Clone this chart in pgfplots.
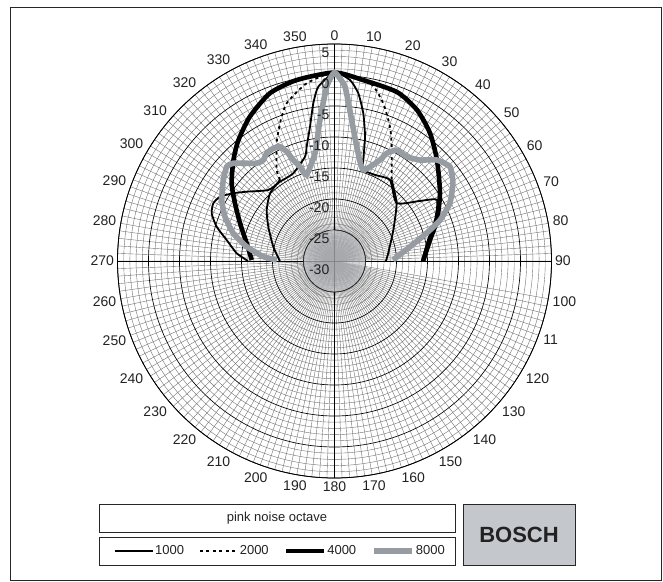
\documentclass[border=0pt]{standalone}
\usepackage{pgfplots}
\pgfplotsset{compat=1.18}
\usepgfplotslibrary{polar}
\usetikzlibrary{calc}
\usepackage{fontspec}
\setmainfont{Liberation Sans}
\definecolor{gline}{RGB}{150,156,162}
\definecolor{discgray}{RGB}{190,192,197}
\definecolor{boschgray}{RGB}{196,199,204}
\definecolor{txt}{RGB}{34,34,34}
\begin{document}
\begin{tikzpicture}
\begin{polaraxis}[
  scale only axis, width=434pt, height=434pt,
  xmin=0, xmax=360, ymin=0, ymax=35,
  x filter/.expression={90-x},
  y filter/.expression={y+30},
  xtick={0,10,...,350},
  xticklabels={90,80,70,60,50,40,30,20,10,0,350,340,330,320,310,300,290,280,270,260,250,240,230,220,210,200,190,180,170,160,150,140,130,120,11,100},
  xticklabel style={font=\fontsize{14}{16}\selectfont, text=txt},
  ytick={0,5,...,35},
  yticklabels={},
  minor x tick num=4,
  minor y tick num=4,
  major tick length=0pt, minor tick length=0pt,
  grid=both,
  major x grid style={black!55, line width=0.4pt},
  minor x grid style={black!55, line width=0.4pt},
  major y grid style={black, line width=0.65pt},
  minor y grid style={black!55, line width=0.4pt},
  extra x ticks={0,90,180,270},
  extra x tick labels={},
  extra x tick style={grid=major, major x grid style={black, line width=0.65pt}},
  axis line style={black, line width=0.8pt},
  legend style={at={(axis cs:259.36,47.6)}, anchor=center, legend columns=4, draw=none, fill=none,
    font=\fontsize{13}{15}\selectfont, text=txt,
    /tikz/every even column/.append style={column sep=14pt},
    nodes={inner sep=1pt}},
  legend image code/.code={\draw[#1] (0pt,0pt) -- (38pt,0pt);},
]
% central disc
\addplot[draw=black!85, line width=0.6pt, fill=discgray, fill opacity=0.7, forget plot] coordinates {
(0,-25) (10,-25) (20,-25) (30,-25) (40,-25) (50,-25) (60,-25) (70,-25) (80,-25) (90,-25)
(100,-25) (110,-25) (120,-25) (130,-25) (140,-25) (150,-25) (160,-25) (170,-25) (180,-25)
(190,-25) (200,-25) (210,-25) (220,-25) (230,-25) (240,-25) (250,-25) (260,-25) (270,-25)
(280,-25) (290,-25) (300,-25) (310,-25) (320,-25) (330,-25) (340,-25) (350,-25)};
% 1000 Hz
\addplot[black, line width=1.8pt, smooth, tension=0.35] coordinates {
(-90,-16.05) (-85.5,-14.18) (-79,-12.29) (-73.8,-10.21) (-68.8,-8.75) (-64.5,-8.35)
(-60.7,-8.82) (-56.2,-10.36) (-51.7,-11.96) (-43,-14.34) (-34.5,-14.48) (-25.2,-14.37)
(-15.8,-12.52) (-13.7,-11.03) (-10.34,-7.98) (-7.66,-4.34) (-5.31,-1.77) (0,0.4)
(4.9,-0.7) (8.08,-2.68) (11.03,-5.73) (13.8,-9.35) (15.9,-13.06) (17.56,-14.6)
(25.2,-14.66) (34.4,-14.16) (47,-16.3) (54.9,-13.15) (59.2,-10.76) (67.8,-12.5)
(77.3,-14.55) (90,-15.9)};
\addlegendentry{1000}
% 2000 Hz (upper, dashed)
\addplot[black, line width=1.8pt, dash pattern=on 3pt off 3.5pt, smooth, tension=0.35] coordinates {
(-33.9,-14.25) (-32.4,-12.61) (-26.2,-8.85) (-21.6,-6.11) (-16.9,-3.42) (-8.9,-0.99) (0,0.4)
(11.3,-0.73) (17.1,-3.34) (22.5,-6.6) (26.65,-9.43) (35.2,-14.0)};
\addlegendentry{2000}
% 4000 Hz
\addplot[black, line width=4.6pt, smooth, tension=0.4] coordinates {
(-89.3,-16.65) (-78.6,-15.55) (-68.25,-13.6) (-59.9,-11.45) (-52.9,-9.2) (-44.95,-6.94)
(-38.5,-5.1) (-30.35,-3.0) (-21.04,-1.0) (-11.8,-0.18) (0,0.4) (8.95,-0.45) (20.3,-0.94)
(28.65,-2.24) (36.7,-4.24) (45.4,-6.79) (57.2,-9.76) (68.2,-12.2) (77.6,-14.23) (90,-15.7)};
\addlegendentry{4000}
% 8000 Hz
\addplot[gline, line width=5.6pt, smooth, tension=0.3] coordinates {
(-89,-20.7) (-86.5,-18.5) (-80.75,-15.65) (-74.7,-13.08) (-68,-10.95) (-61.6,-9.32)
(-53.9,-7.8) (-48.8,-6.9) (-46,-7.3) (-38.5,-9.86) (-35.2,-10.07) (-32.2,-9.47)
(-28.5,-9.32) (-25.5,-9.58) (-23.6,-10.76) (-22.2,-12.4) (-20.1,-13.8) (-18,-15.4)
(-10.2,-12.3) (-5.9,-7.14) (-2.56,-1.86) (0,0.4) (3.45,-1.84) (6.95,-7.1) (11.0,-11.2)
(17.4,-14.6) (24.25,-12.13) (25.85,-10.7) (29.3,-9.5) (34.7,-9.54) (40.25,-8.66)
(45.3,-6.83) (50.8,-5.95) (56.6,-7.12) (63.3,-9.15) (68.8,-11.74) (73.1,-14.45)
(79.3,-17.6) (89,-20.56)};
\addlegendentry{8000}
% 2000 Hz lower parts
\addplot[black, line width=1.8pt, smooth, tension=0.35, forget plot] coordinates {
(-90,-21.2) (-76.85,-19.86) (-62.6,-17.97) (-53.05,-16.32) (-43.6,-14.92) (-33.9,-14.25)};
\addplot[black, line width=1.8pt, smooth, tension=0.35, forget plot] coordinates {
(35.2,-14.0) (47,-16.3) (62.2,-19.27) (81.5,-21.23) (90,-21.7)};
% radial labels
\foreach \v/\t in {35/5,30/0,25/-5,20/-10,15/-15,10/-20,5/-25,0/-30}{
  \edef\tmp{\noexpand\node[anchor=north east, font=\noexpand\fontsize{14}{16}\noexpand\selectfont, text=txt, inner sep=1pt, xshift=-4pt, yshift=-3pt] at (axis cs:90,\v) {\t};}
  \tmp
}
\coordinate (C) at (axis cs:0,0);
\end{polaraxis}
\pgfresetboundingbox
\begin{scope}[shift={($(C)+(-334.5pt,-320pt)$)}, x=1pt, y=1pt]
\useasboundingbox (0,0) rectangle (663,581);
\draw[line width=0.9pt, black!85] (10,1) rectangle (661,574);
\draw[line width=0.8pt, black!85] (99,49) rectangle (455,77);
\node[font=\fontsize{13}{15}\selectfont, text=txt] at (277,63) {pink noise octave};
\draw[line width=0.8pt, black!85] (99,16) rectangle (455,44);
\draw[line width=0.8pt, black!85, fill=boschgray] (463,16) rectangle (575,77);
\node[font=\fontsize{22}{24}\selectfont\bfseries, text=txt] at (519,46.5) {BOSCH};
\end{scope}
\end{tikzpicture}
\end{document}
